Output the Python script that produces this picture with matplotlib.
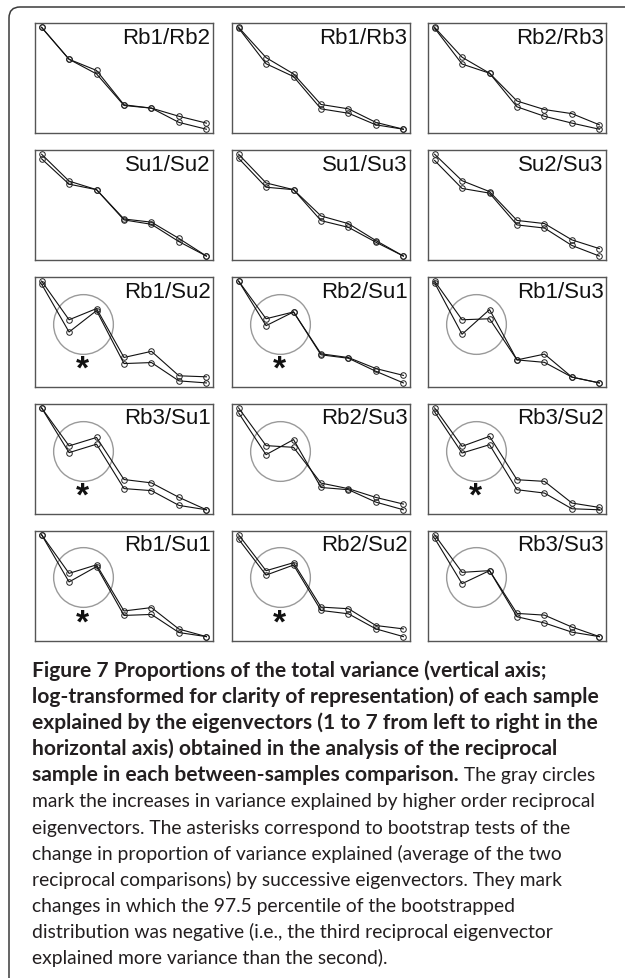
import matplotlib
matplotlib.use("Agg")
import matplotlib.pyplot as plt
from matplotlib.patches import FancyBboxPatch
import matplotlib.transforms as mtransforms

# ---------------- data (relative log-variance, eigenvectors 1..7) ----------------
eigenvectors = [1, 2, 3, 4, 5, 6, 7]
titles = ["Rb1/Rb2", "Rb1/Rb3", "Rb2/Rb3",
          "Su1/Su2", "Su1/Su3", "Su2/Su3",
          "Rb1/Su2", "Rb2/Su1", "Rb1/Su3",
          "Rb3/Su1", "Rb2/Su3", "Rb3/Su2",
          "Rb1/Su1", "Rb2/Su2", "Rb3/Su3"]
series_a = [
    [1.00, 0.687, 0.577, 0.240, 0.207, 0.127, 0.060],
    [1.00, 0.703, 0.543, 0.243, 0.200, 0.067, 0.000],
    [1.00, 0.707, 0.550, 0.277, 0.193, 0.153, 0.043],
    [1.00, 0.736, 0.652, 0.364, 0.333, 0.173, 0.000],
    [1.00, 0.718, 0.652, 0.394, 0.318, 0.152, 0.000],
    [1.00, 0.740, 0.633, 0.350, 0.319, 0.159, 0.073],
    [1.00, 0.620, 0.730, 0.250, 0.310, 0.070, 0.060],
    [1.00, 0.630, 0.697, 0.286, 0.249, 0.141, 0.074],
    [1.00, 0.620, 0.630, 0.226, 0.283, 0.057, 0.000],
    [1.00, 0.627, 0.710, 0.297, 0.264, 0.122, 0.000],
    [1.00, 0.630, 0.613, 0.262, 0.207, 0.121, 0.056],
    [1.00, 0.623, 0.721, 0.295, 0.279, 0.066, 0.023],
    [1.00, 0.621, 0.705, 0.252, 0.285, 0.074, 0.000],
    [1.00, 0.647, 0.726, 0.290, 0.274, 0.109, 0.076],
    [1.00, 0.631, 0.648, 0.228, 0.211, 0.094, 0.000],
]
series_b = [
    [1.00, 0.687, 0.543, 0.233, 0.207, 0.067, 0.000],
    [0.993, 0.643, 0.517, 0.200, 0.157, 0.043, 0.000],
    [0.993, 0.640, 0.550, 0.220, 0.127, 0.060, 0.000],
    [0.955, 0.706, 0.652, 0.355, 0.312, 0.142, 0.000],
    [0.960, 0.676, 0.652, 0.348, 0.282, 0.136, 0.000],
    [0.939, 0.664, 0.618, 0.306, 0.275, 0.104, 0.000],
    [0.970, 0.500, 0.710, 0.190, 0.200, 0.020, 0.000],
    [1.00, 0.562, 0.697, 0.276, 0.242, 0.114, 0.000],
    [0.983, 0.478, 0.720, 0.226, 0.202, 0.057, 0.000],
    [1.00, 0.561, 0.644, 0.208, 0.188, 0.043, 0.000],
    [0.951, 0.541, 0.689, 0.219, 0.197, 0.075, 0.000],
    [0.961, 0.557, 0.639, 0.197, 0.164, 0.010, 0.000],
    [1.00, 0.537, 0.688, 0.208, 0.218, 0.040, 0.000],
    [0.957, 0.604, 0.703, 0.257, 0.224, 0.076, 0.000],
    [0.966, 0.520, 0.648, 0.195, 0.134, 0.044, 0.000],
]
has_circle = [False] * 6 + [True] * 9
has_asterisk = [False] * 6 + [True, True, False,
                              True, False, True,
                              True, True, False]

caption_bold = [
    "Figure 7 Proportions of the total variance (vertical axis;",
    "log-transformed for clarity of representation) of each sample",
    "explained by the eigenvectors (1 to 7 from left to right in the",
    "horizontal axis) obtained in the analysis of the reciprocal",
    "sample in each between-samples comparison.",
]
caption_tail = " The gray circles"
caption_regular = [
    "mark the increases in variance explained by higher order reciprocal",
    "eigenvectors. The asterisks correspond to bootstrap tests of the",
    "change in proportion of variance explained (average of the two",
    "reciprocal comparisons) by successive eigenvectors. They mark",
    "changes in which the 97.5 percentile of the bootstrapped",
    "distribution was negative (i.e., the third reciprocal eigenvector",
    "explained more variance than the second).",
]

# ---------------- figure ----------------
W, H = 625, 979
DPI = 100
fig = plt.figure(figsize=(W / DPI, H / DPI), dpi=DPI)
fig.patch.set_facecolor("white")

# rounded frame (pixel units through inches)
fx0, fy_top, fx1, fy_bot = 9, 8, 640, 990
frame = FancyBboxPatch((fx0 / DPI, (H - fy_bot) / DPI), (fx1 - fx0) / DPI, (fy_bot - fy_top) / DPI,
                       boxstyle="round,pad=0,rounding_size=0.11",
                       transform=fig.dpi_scale_trans, facecolor="none",
                       edgecolor="#3a3a3a", linewidth=1.1, clip_on=False)
fig.patches.append(frame)

col_left = [35, 232, 428]
panel_w = 178
row_top0 = 24.3
row_pitch = 126.85
panel_h = 110

for i, title in enumerate(titles):
    r, c = divmod(i, 3)
    left = col_left[c]
    top = row_top0 + r * row_pitch
    ax = fig.add_axes([left / W, 1 - (top + panel_h) / H, panel_w / W, panel_h / H])
    a = series_a[i]
    b = series_b[i]
    for s in (a, b):
        ax.plot(eigenvectors, s, color="#111111", lw=0.8,
                marker="o", ms=4.0, mfc="none", mec="#222222", mew=0.7, zorder=3)
    lo = min(min(a), min(b))
    hi = max(max(a), max(b))
    pad = 0.04 * (hi - lo)
    ax.set_ylim(lo - pad, hi + pad)
    ax.set_xlim(1 - 0.04 * 6, 7 + 0.04 * 6)
    ax.set_xticks([])
    ax.set_yticks([])
    for sp in ax.spines.values():
        sp.set_color("#555555")
        sp.set_linewidth(1.0)
    ax.annotate(title, xy=(1, 1), xycoords="axes fraction",
                xytext=(-2.5, -3.5), textcoords="offset pixels",
                ha="right", va="top", fontsize=16, family="Liberation Sans",
                color="#111111")
    trans = mtransforms.blended_transform_factory(ax.transData, ax.transAxes)
    if has_circle[i]:
        ax.plot([2.5], [0.575], transform=trans, marker="o", ms=43, mfc="none",
                mec="#9a9a9a", mew=1.0, zorder=2, clip_on=False)
    if has_asterisk[i]:
        ax.text(2.5, 0.16, "*", transform=trans, ha="center", va="center",
                fontsize=24, fontweight="bold", family="Liberation Sans",
                color="#111111")

# ---------------- caption ----------------
renderer = fig.canvas.get_renderer()
cap_x = 32 / W
base0 = 677
line_step = 26.1
txt_color = "#231f20"
cap_family = ["Lato", "DejaVu Sans"]


def fit_size(text, weight, target_px):
    t = fig.text(0, 0, text, fontsize=10, fontweight=weight, family=cap_family)
    w = t.get_window_extent(renderer).width
    t.remove()
    return 10 * target_px / w


bold_size = fit_size(caption_bold[2], "bold", 566)
reg_size = fit_size(caption_regular[0], "normal", 565)

for k, line in enumerate(caption_bold):
    y = 1 - (base0 + k * line_step) / H
    t = fig.text(cap_x, y, line, fontsize=bold_size, fontweight="bold",
                 family=cap_family, color=txt_color, va="baseline", ha="left")
    if k == len(caption_bold) - 1:
        fig.canvas.draw()
        bb = t.get_window_extent(renderer)
        fig.text(bb.x1 / W, y, caption_tail, fontsize=reg_size, fontweight="normal",
                 family=cap_family, color=txt_color, va="baseline", ha="left")

for k, line in enumerate(caption_regular):
    y = 1 - (base0 + (k + len(caption_bold)) * line_step) / H
    fig.text(cap_x, y, line, fontsize=reg_size, fontweight="normal",
             family=cap_family, color=txt_color, va="baseline", ha="left")

fig.savefig("out.png", dpi=DPI, facecolor="white")
